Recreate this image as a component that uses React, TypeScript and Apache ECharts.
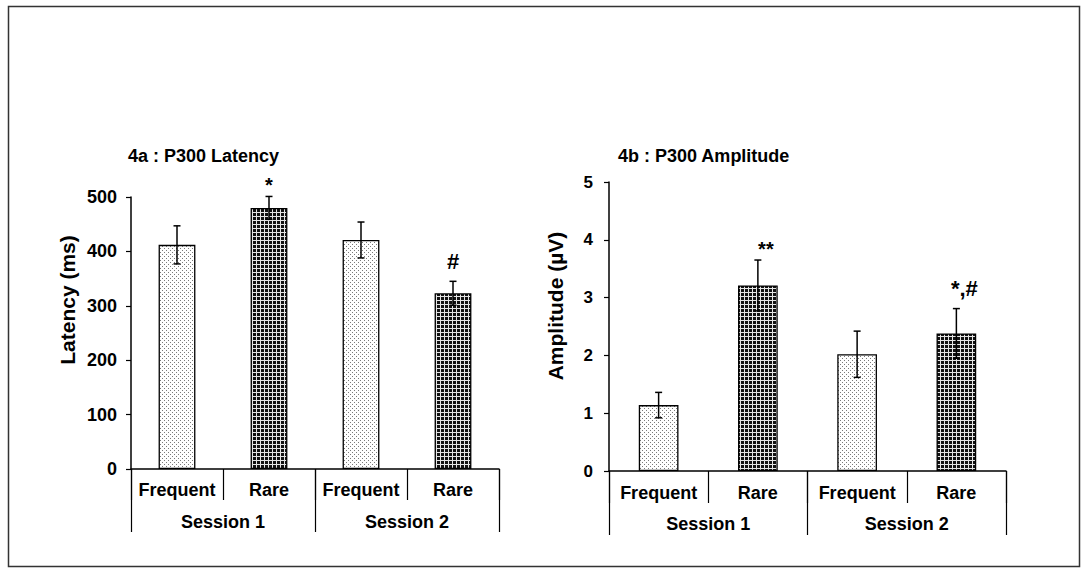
import React, { useEffect, useRef } from "react";
import * as echarts from "echarts";

const conditions = ["Frequent", "Rare", "Frequent", "Rare"];
const sessions = ["Session 1", "Session 2"];
const latencyMean = [412, 480, 421, 323];
const latencyErr = [35, 21, 33, 22];
const latencyMarks = ["", "*", "", "#"];
const amplitudeMean = [1.14, 3.21, 2.02, 2.38];
const amplitudeErr = [0.22, 0.44, 0.4, 0.43];
const amplitudeMarks = ["", "**", "", "*,#"];
const latencyName = "Latency (ms)";
const amplitudeName = "Amplitude (µV)";

const FONT = '"Liberation Sans", Arial, Helvetica, sans-serif';

function makeDots(): HTMLCanvasElement {
  const c = document.createElement("canvas");
  c.width = 4;
  c.height = 4;
  const g = c.getContext("2d")!;
  g.fillStyle = "#ffffff";
  g.fillRect(0, 0, 4, 4);
  g.fillStyle = "#7a7a7a";
  g.fillRect(0, 0, 1, 1);
  g.fillRect(2, 2, 1, 1);
  return c;
}

function makeGrid(): HTMLCanvasElement {
  const c = document.createElement("canvas");
  c.width = 4;
  c.height = 4;
  const g = c.getContext("2d")!;
  g.fillStyle = "#111111";
  g.fillRect(0, 0, 4, 4);
  g.fillStyle = "#e6e6e6";
  g.fillRect(0, 0, 4, 1);
  g.fillRect(0, 0, 1, 4);
  return c;
}

export default function App() {
  const ref = useRef<HTMLDivElement>(null);

  useEffect(() => {
    if (!ref.current) return;
    const chart = echarts.init(ref.current, undefined, { renderer: "svg" });
    const dots = makeDots();
    const grid = makeGrid();
    const dotsPattern: any = { image: dots, repeat: "repeat", imageWidth: 4, imageHeight: 4 };
    const gridPattern: any = { image: grid, repeat: "repeat", imageWidth: 4, imageHeight: 4 };

    const barData = (vals: number[]) =>
      vals.map((v, i) => ({
        value: v,
        itemStyle: { color: conditions[i] === "Frequent" ? dotsPattern : gridPattern },
      }));

    const errSeries = (means: number[], errs: number[], marks: string[], gi: number, dx: number) => ({
      type: "custom",
      xAxisIndex: gi * 2,
      yAxisIndex: gi,
      z: 10,
      data: means.map((m, i) => [i, m, errs[i]]),
      renderItem: (params: any, api: any) => {
        const x = api.value(0);
        const m = api.value(1);
        const e = api.value(2);
        const top = api.coord([x, m + e]);
        const bot = api.coord([x, m - e]);
        const cap = 3.5;
        const ls = { stroke: "#000", lineWidth: 1.5 };
        const children: any[] = [
          { type: "line", shape: { x1: top[0], y1: top[1], x2: bot[0], y2: bot[1] }, style: ls },
          { type: "line", shape: { x1: top[0] - cap, y1: top[1], x2: top[0] + cap, y2: top[1] }, style: ls },
          { type: "line", shape: { x1: bot[0] - cap, y1: bot[1], x2: bot[0] + cap, y2: bot[1] }, style: ls },
        ];
        const mk = marks[params.dataIndex];
        if (mk) {
          const hasHash = mk.indexOf("#") >= 0;
          children.push({
            type: "text",
            x: top[0] + dx,
            y: top[1] - (hasHash ? 9 : 1),
            style: {
              text: mk,
              fill: "#000",
              font: `bold ${hasHash ? 22 : 20}px ${FONT}`,
              align: "center",
              verticalAlign: "bottom",
            },
          });
        }
        return { type: "group", children };
      },
    });

    const labelStyle = { color: "#000", fontWeight: "bold", fontFamily: FONT };
    const xAxes = (gi: number, innerLen: number, outerLen: number, m1: number, m2: number) => [
      {
        type: "category",
        gridIndex: gi,
        data: conditions,
        axisLine: { lineStyle: { color: "#000", width: 1.5 } },
        axisTick: { show: true, interval: 0, length: innerLen, lineStyle: { color: "#000", width: 1.2 } },
        axisLabel: { ...labelStyle, interval: 0, margin: m1, fontSize: 18 },
        splitLine: { show: false },
      },
      {
        type: "category",
        gridIndex: gi,
        position: "bottom",
        data: sessions,
        axisLine: { show: false },
        axisTick: { show: true, interval: 0, length: outerLen, lineStyle: { color: "#000", width: 1.2 } },
        axisLabel: { ...labelStyle, interval: 0, margin: m2, fontSize: 18 },
        splitLine: { show: false },
      },
    ];

    chart.setOption({
      animation: false,
      backgroundColor: "#fff",
      title: [
        {
          text: "4a : P300 Latency",
          left: 128,
          top: 147,
          padding: 0,
          textStyle: { ...labelStyle, fontSize: 18 },
        },
        {
          text: "4b : P300 Amplitude",
          left: 618,
          top: 147,
          padding: 0,
          textStyle: { ...labelStyle, fontSize: 18 },
        },
      ],
      graphic: [
        {
          type: "rect",
          shape: { x: 8.5, y: 6.5, width: 1071, height: 560 },
          style: { fill: "none", stroke: "#333", lineWidth: 1.5 },
          silent: true,
        },
        {
          type: "text",
          x: 67,
          y: 300,
          rotation: Math.PI / 2,
          style: {
            text: latencyName,
            fill: "#000",
            font: `bold 21px ${FONT}`,
            align: "center",
            verticalAlign: "middle",
          },
        },
        {
          type: "text",
          x: 555,
          y: 306,
          rotation: Math.PI / 2,
          style: {
            text: amplitudeName,
            fill: "#000",
            font: `bold 21px ${FONT}`,
            align: "center",
            verticalAlign: "middle",
          },
        },
      ],
      grid: [
        { left: 131, top: 197, width: 368, height: 272 },
        { left: 609, top: 182, width: 397, height: 289 },
      ],
      xAxis: [...xAxes(0, 31, 63, 12, 44), ...xAxes(1, 32, 64, 13, 44)],
      yAxis: [
        {
          type: "value",
          gridIndex: 0,
          min: 0,
          max: 500,
          interval: 100,
          axisLine: { show: true, lineStyle: { color: "#000", width: 1.5 } },
          axisTick: { show: true, length: 5, lineStyle: { color: "#000", width: 1.2 } },
          axisLabel: { ...labelStyle, fontSize: 18, margin: 14 },
          splitLine: { show: false },
        },
        {
          type: "value",
          gridIndex: 1,
          min: 0,
          max: 5,
          interval: 1,
          axisLine: { show: true, lineStyle: { color: "#000", width: 1.5 } },
          axisTick: { show: true, length: 5, lineStyle: { color: "#000", width: 1.2 } },
          axisLabel: { ...labelStyle, fontSize: 17, margin: 16 },
          splitLine: { show: false },
        },
      ],
      series: [
        {
          type: "bar",
          xAxisIndex: 0,
          yAxisIndex: 0,
          barWidth: "40%",
          data: barData(latencyMean),
          itemStyle: { borderColor: "#000", borderWidth: 1.3 },
        },
        errSeries(latencyMean, latencyErr, latencyMarks, 0, 0),
        {
          type: "bar",
          xAxisIndex: 2,
          yAxisIndex: 1,
          barWidth: "40%",
          data: barData(amplitudeMean),
          itemStyle: { borderColor: "#000", borderWidth: 1.3 },
        },
        errSeries(amplitudeMean, amplitudeErr, amplitudeMarks, 1, 8),
      ],
    });

    return () => chart.dispose();
  }, []);

  return (
    <div
      ref={ref}
      style={{ position: "absolute", left: 0, top: 0, width: 1089, height: 573 }}
    />
  );
}
